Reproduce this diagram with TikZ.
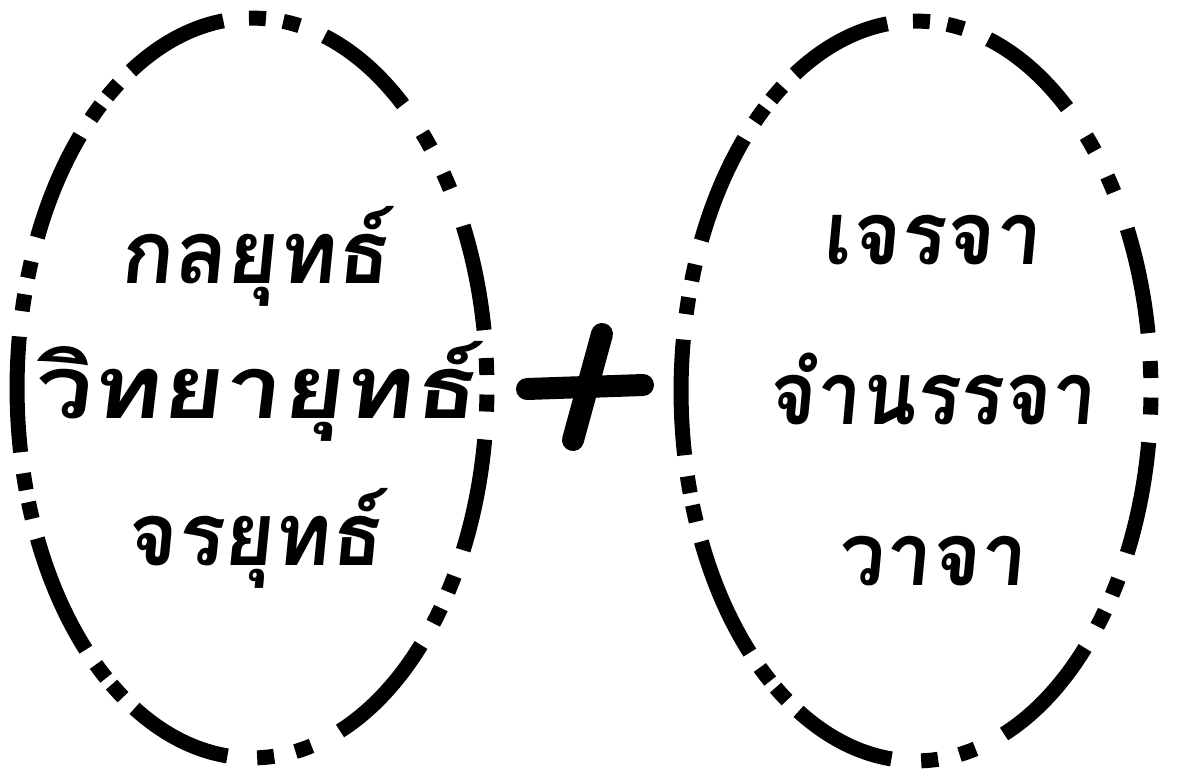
\documentclass[tikz,border=0pt]{standalone}
\usepackage{fontspec}
\newfontfamily\thaifont[Script=Thai,FakeSlant=0.1]{Loma}

\begin{document}
\begin{tikzpicture}[x=0.02cm, y=-0.02cm, every node/.style={font=\thaifont\bfseries\fontsize{50}{54}\selectfont, inner sep=0pt}]
\tikzset{
  dashseg/.style={line width=0.3cm, line cap=butt},
  plusbar/.style={line width=0.44cm, line cap=round}
}
\useasboundingbox (0,0) rectangle (1189,778);
\coordinate (C1) at (252,388);
\coordinate (C2) at (916,391);
% long dashes a->b, next one starts at n; two square dots in each gap
\foreach \c in {C1,C2}{
  \foreach \a/\b/\n in {50/72/97, 97/121/137, 137/156/172, 172/190/204, 204/225/240, 240/264/292, 292/316/334, 334/352/369, 369/386/410}{
    \draw[dashseg] (\c) ++(\a:4.7cm and 7.4cm) arc[start angle=\a, end angle=\b, x radius=4.7cm, y radius=7.4cm];
    \foreach \k in {1,2}{
      \pgfmathsetmacro\m{\b+\k*(\n-\b)/3}
      \pgfmathsetmacro\dw{0.085/sqrt((2.35*sin(\m))^2+(3.7*cos(\m))^2)*57.3}
      \draw[dashseg] (\c) ++(\m-\dw:4.7cm and 7.4cm) arc[start angle=\m-\dw, end angle=\m+\dw, x radius=4.7cm, y radius=7.4cm];
    }
  }
}
\foreach \txt/\yb/\sx [count=\i] in {กลยุทธ์/283/1.0, วิทยายุทธ์/418/1.2, จรยุทธ์/565/0.98}{
  \node[anchor=base, xscale=\sx] (war\i) at (254,\yb) {\txt};
}
\foreach \txt/\yb/\sx [count=\i] in {เจรจา/264/0.95, จำนรรจา/424/0.92, วาจา/585/0.95}{
  \node[anchor=base, xscale=\sx] (talk\i) at (931,\yb) {\txt};
}
\coordinate (plusL) at (527,389);
\coordinate (plusR) at (643,385);
\coordinate (plusT) at (602,334);
\coordinate (plusB) at (573,440);
\draw[plusbar] (plusL) -- (plusR);
\draw[plusbar] (plusT) -- (plusB);
\end{tikzpicture}
\end{document}
